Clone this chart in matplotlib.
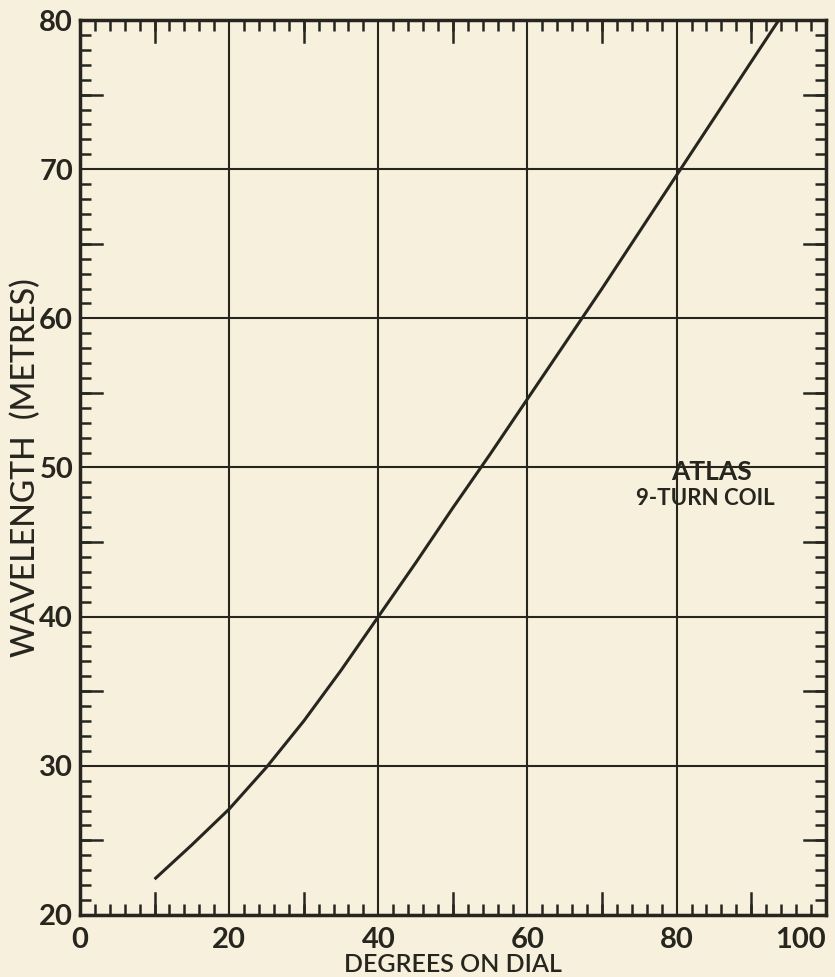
import numpy as np
import matplotlib.pyplot as plt
from matplotlib.ticker import MultipleLocator

# dial reading vs wavelength
dial_degrees = [10, 15, 20, 25, 30, 35, 40, 45, 50, 55, 60, 65, 70, 75, 80, 85, 90, 93.7]
wavelength_m = [22.4, 24.7, 27.1, 29.9, 33.0, 36.4, 40.0, 43.6, 47.3, 50.9, 54.6,
                58.3, 62.0, 65.8, 69.6, 73.4, 77.2, 80.0]

x_ticks = [0, 20, 40, 60, 80, 100]
y_ticks = [20, 30, 40, 50, 60, 70, 80]

paper = "#f6f0dc"
ink = "#26261f"
plt.rcParams['font.family'] = ['Lato', 'DejaVu Sans']
plt.rcParams['font.weight'] = 'bold'

fig = plt.figure(figsize=(8.35, 9.77), dpi=100, facecolor=paper)
ax = fig.add_axes([0.0958, 0.0635, 0.8932, 0.916])
ax.set_facecolor(paper)

ax.plot(dial_degrees, wavelength_m, color=ink, lw=2.2, solid_capstyle='butt')

ax.set_xlim(0, 100)
ax.set_ylim(20, 80)
ax.set_xticks(x_ticks)
ax.set_yticks(y_ticks)
ax.xaxis.set_minor_locator(MultipleLocator(2))
ax.yaxis.set_minor_locator(MultipleLocator(1))
ax.grid(True, which='major', color=ink, lw=1.5)

# medium ticks every 10 on x and every 5 on y
for v in range(10, 100, 20):
    for y0, y1 in [(20, 20 + 22 / 14.92), (80, 80 - 22 / 14.92)]:
        ax.plot([v, v], [y0, y1], color=ink, lw=1.8, clip_on=False)
for v in range(25, 80, 10):
    for x0, x1 in [(0, 22 / 7.46), (100, 100 - 22 / 7.46)]:
        ax.plot([x0, x1], [v, v], color=ink, lw=1.8, clip_on=False)

ax.tick_params(which='both', direction='in', top=True, right=True, color=ink)
ax.tick_params(which='major', length=0, labelsize=21, labelcolor=ink)
ax.tick_params(axis='x', which='major', pad=9)
ax.tick_params(axis='y', which='major', pad=5)
ax.tick_params(which='minor', length=8, width=1.8)
ax.get_xticklabels()[-1].set_horizontalalignment('right')

for s in ax.spines.values():
    s.set_linewidth(2.5)
    s.set_color(ink)

ax.set_xlabel("DEGREES ON DIAL", fontsize=18, color=ink, fontweight='semibold', labelpad=0)
ax.set_ylabel("WAVELENGTH  (METRES)", fontsize=23, color=ink, fontweight='medium')
ax.yaxis.set_label_coords(-0.052, 0.5)

ax.text(84.7, 49.7, "ATLAS", ha='center', va='center', fontsize=19, color=ink)
ax.text(83.8, 47.9, "9-TURN COIL", ha='center', va='center', fontsize=16, color=ink)

fig.savefig("out.png", dpi=100, facecolor=paper)
